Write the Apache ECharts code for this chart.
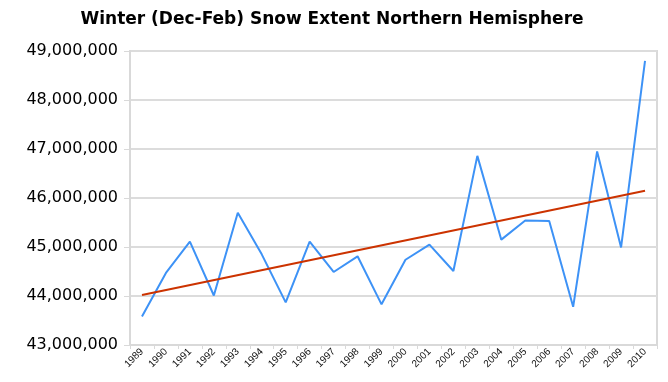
<!DOCTYPE html>
<html>
<head>
<meta charset="utf-8">
<script src="https://cdn.jsdelivr.net/npm/echarts@6/dist/echarts.min.js"></script>
<style>html,body{margin:0;padding:0;background:#fff;}#c{width:668px;height:382px;}</style>
</head>
<body>
<div id="c"></div>
<script>
const years = ['1989','1990','1991','1992','1993','1994','1995','1996','1997','1998','1999','2000','2001','2002','2003','2004','2005','2006','2007','2008','2009','2010'];
const snowExtent = [43580000,44470000,45110000,44010000,45700000,44850000,43870000,45110000,44490000,44810000,43830000,44740000,45050000,44510000,46860000,45150000,45540000,45530000,43780000,46950000,44990000,48800000];
const trendEnds = [['1989', 44020000], ['2010', 46150000]];
const yTicks = { min: 43000000, max: 49000000, interval: 1000000 };

const chart = echarts.init(document.getElementById('c'), null, { renderer: 'canvas' });
chart.setOption({
  animation: false,
  title: {
    text: 'Winter (Dec-Feb) Snow Extent Northern Hemisphere',
    left: 332, top: 11, textAlign: 'center', padding: 0,
    textStyle: { fontFamily: 'DejaVu Sans', fontWeight: 'bold', fontSize: 17, color: '#000' }
  },
  grid: { left: 130, right: 11, top: 51, bottom: 37, show: true, borderColor: '#d9d9d9', borderWidth: 2 },
  xAxis: {
    type: 'category', data: years, boundaryGap: true,
    axisLine: { lineStyle: { color: '#d9d9d9', width: 2 } },
    axisTick: { show: true, length: 4, lineStyle: { color: '#d9d9d9', width: 1 } },
    axisLabel: { rotate: 45, interval: 0, margin: 5, fontFamily: 'Liberation Sans', fontSize: 10, color: '#111' }
  },
  yAxis: {
    type: 'value', min: yTicks.min, max: yTicks.max, interval: yTicks.interval,
    axisLine: { show: true, lineStyle: { color: '#d9d9d9', width: 2 } },
    axisTick: { show: true, length: 6, lineStyle: { color: '#d9d9d9', width: 1 } },
    splitLine: { lineStyle: { color: '#dcdcdc', width: 2 } },
    axisLabel: {
      margin: 12, fontFamily: 'DejaVu Sans', fontSize: 16, color: '#000',
      formatter: v => v.toLocaleString('en-US')
    }
  },
  series: [
    {
      type: 'line', data: snowExtent, symbol: 'none',
      lineStyle: { color: '#3d92f6', width: 2 }, z: 2
    },
    {
      type: 'line', data: trendEnds, symbol: 'none',
      lineStyle: { color: '#cc3300', width: 2 }, z: 3
    }
  ]
});
</script>
</body>
</html>
